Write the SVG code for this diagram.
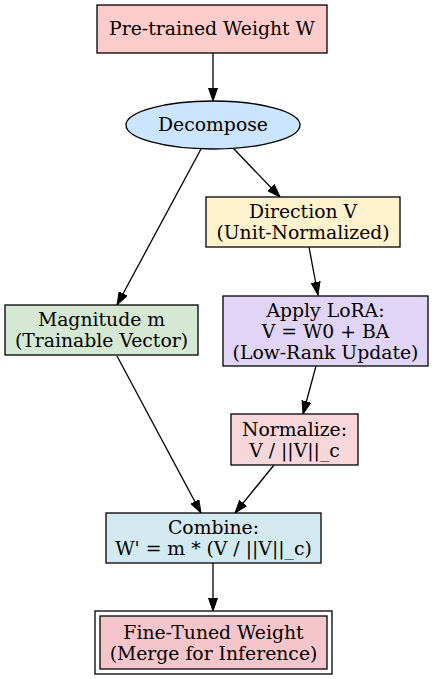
<svg xmlns="http://www.w3.org/2000/svg" width="434" height="679" viewBox="0 0 434 679">
<defs>
<marker id="arr" markerWidth="14" markerHeight="10" refX="13" refY="5" orient="auto" markerUnits="userSpaceOnUse" viewBox="0 0 14 10">
<path d="M0,0.5 L13,5 L0,9.5 Z" fill="#000" stroke="#000" stroke-width="1"/>
</marker>
</defs>
<style>
text{font-family:"DejaVu Serif","Liberation Serif",serif;font-size:18.8px;text-anchor:middle;fill:#000}
.n{stroke:#000;stroke-width:1.3}
.e{stroke:#000;stroke-width:1.3;fill:none;marker-end:url(#arr)}
</style>
<rect width="434" height="679" fill="#fff"/>
<g id="edges">
<line class="e" x1="213" y1="53" x2="213" y2="101"/>
<line class="e" x1="233" y1="148" x2="280" y2="197"/>
<line class="e" x1="201" y1="149" x2="117" y2="305"/>
<line class="e" x1="309" y1="247" x2="318" y2="295"/>
<line class="e" x1="316" y1="366" x2="303" y2="414"/>
<line class="e" x1="117" y1="356" x2="201" y2="513"/>
<line class="e" x1="274" y1="465" x2="235" y2="513"/>
<line class="e" x1="213" y1="563" x2="213" y2="611"/>
</g>
<g id="pretrained">
<rect class="n" x="97" y="5" width="230" height="48" fill="#ffcccc"/>
<text x="212" y="35">Pre-trained Weight W</text>
</g>
<g id="decompose">
<ellipse class="n" cx="213" cy="125" rx="87" ry="24" fill="#cce5ff"/>
<text x="213" y="131">Decompose</text>
</g>
<g id="direction">
<rect class="n" x="206" y="197" width="194" height="50" fill="#fff2cc"/>
<text x="303" y="218">Direction V</text>
<text x="303" y="239">(Unit-Normalized)</text>
</g>
<g id="magnitude">
<rect class="n" x="5" y="305" width="193" height="50" fill="#d5e8d4"/>
<text x="101.5" y="326">Magnitude m</text>
<text x="101.5" y="347">(Trainable Vector)</text>
</g>
<g id="lora">
<rect class="n" x="223" y="296" width="205" height="70" fill="#e1d5f7"/>
<text x="325.5" y="317">Apply LoRA:</text>
<text x="325.5" y="338">V = W0 + BA</text>
<text x="325.5" y="359">(Low-Rank Update)</text>
</g>
<g id="normalize">
<rect class="n" x="231" y="414" width="127" height="51" fill="#f8d7da"/>
<text x="294.5" y="436">Normalize:</text>
<text x="294.5" y="457">V / ||V||_c</text>
</g>
<g id="combine">
<rect class="n" x="106" y="513" width="215" height="50" fill="#d1e9ef"/>
<text x="213.5" y="534">Combine:</text>
<text x="213.5" y="555">W' = m * (V / ||V||_c)</text>
</g>
<g id="finetuned">
<rect class="n" x="95" y="611" width="237" height="63" fill="none"/>
<rect class="n" x="100" y="616" width="227" height="53" fill="#f4c6cc"/>
<text x="213.5" y="639">Fine-Tuned Weight</text>
<text x="213.5" y="660">(Merge for Inference)</text>
</g>
</svg>
